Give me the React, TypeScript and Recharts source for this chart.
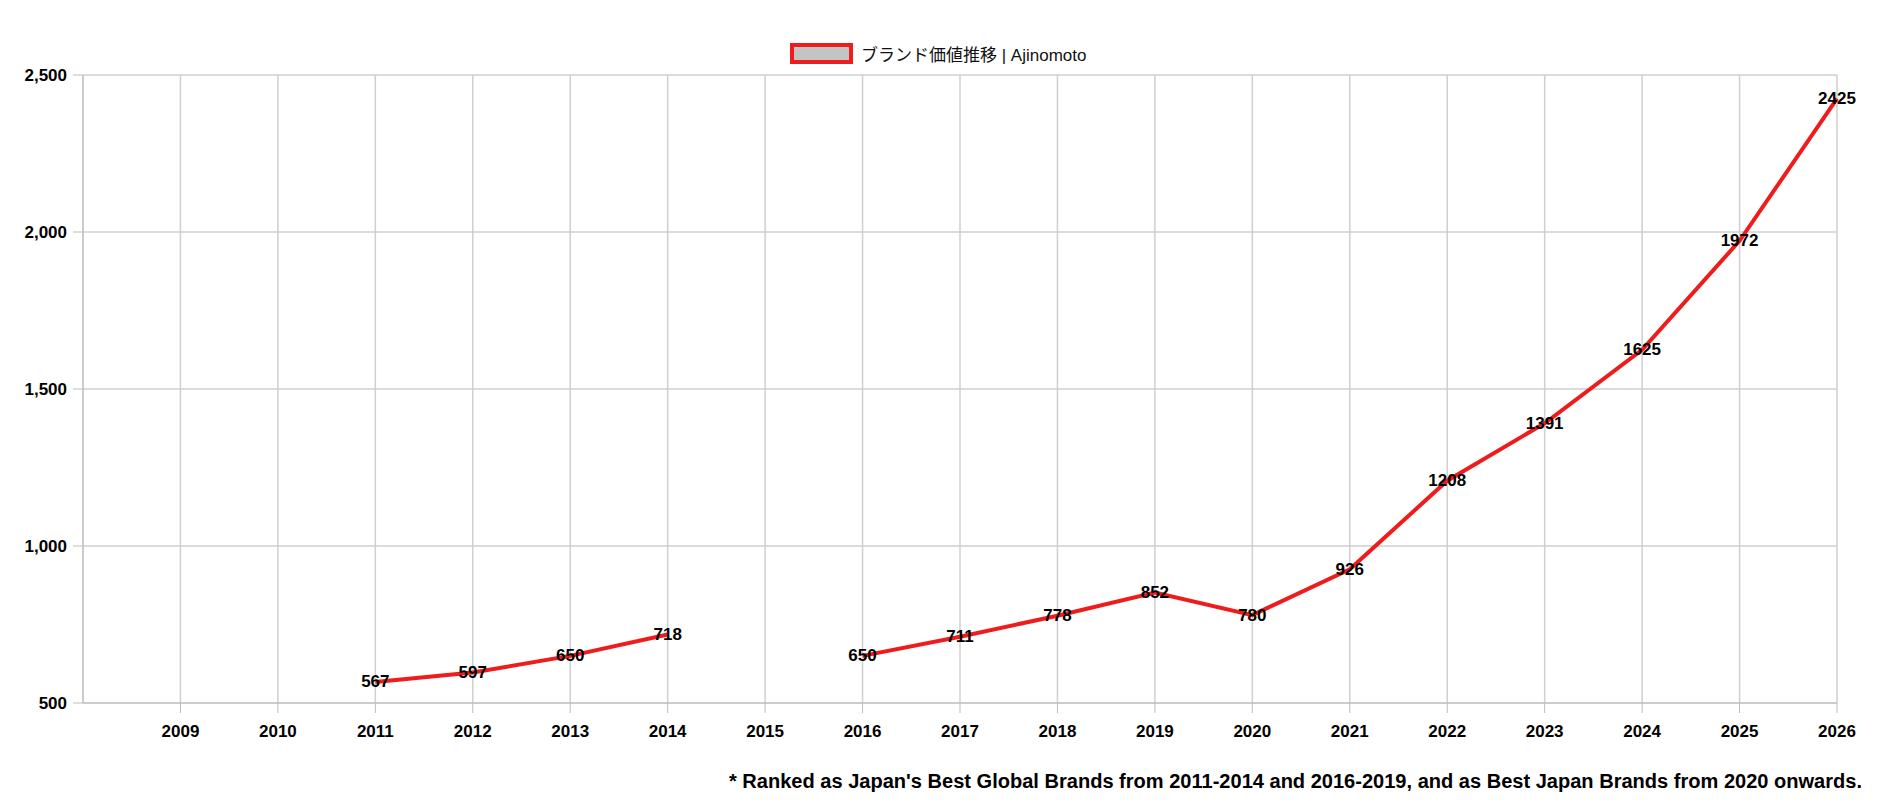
import { LineChart, Line, XAxis, YAxis, CartesianGrid, Legend, LabelList } from 'recharts'

// years on the x axis (2008 is an empty slot left of the first tick)
const years = [2009, 2010, 2011, 2012, 2013, 2014, 2015, 2016, 2017, 2018, 2019, 2020, 2021, 2022, 2023, 2024, 2025, 2026]
// brand value, null = not ranked that year
const brandValue: (number | null)[] = [null, null, 567, 597, 650, 718, null, 650, 711, 778, 852, 780, 926, 1208, 1391, 1625, 1972, 2425]
const yTicks = [500, 1000, 1500, 2000, 2500]

const seriesName = 'ブランド価値推移 | Ajinomoto'
const footnote =
  "* Ranked as Japan's Best Global Brands from 2011-2014 and 2016-2019, and as Best Japan Brands from 2020 onwards."

const data = years.map((year, i) => ({ year, value: brandValue[i] }))

const font = '"Liberation Sans", Arial, "Noto Sans CJK JP", sans-serif'
const tickStyle = { fill: '#000', fontSize: 17, fontWeight: 'bold', fontFamily: font }

function LegendBox() {
  return (
    <div style={{ display: 'flex', alignItems: 'center', fontFamily: font, fontSize: 17, color: '#111' }}>
      <span
        style={{
          display: 'inline-block',
          width: 55,
          height: 13,
          background: '#c4c4c4',
          border: '4px solid #ee1c1c',
          marginRight: 8,
        }}
      />
      <span>{seriesName}</span>
    </div>
  )
}

function PointLabel(props: any) {
  const { x, y, value } = props
  if (value == null) return null
  return (
    <text
      x={x}
      y={y}
      textAnchor="middle"
      dominantBaseline="central"
      fill="#000"
      fontSize={17}
      fontWeight="bold"
      fontFamily={font}
    >
      {value}
    </text>
  )
}

export default function App() {
  return (
    <div style={{ position: 'absolute', left: 0, top: 0, width: 1890, height: 811, background: '#fff' }}>
      <LineChart width={1890} height={811} data={data} margin={{ top: 75, right: 53, bottom: 78, left: 0 }}>
        <CartesianGrid stroke="#cfcfcf" strokeWidth={1.5} />
        <XAxis
          type="number"
          dataKey="year"
          domain={[2008, 2026]}
          ticks={years}
          height={30}
          tickSize={10}
          tickMargin={12}
          stroke="#bdbdbd"
          tick={tickStyle}
        />
        <YAxis
          domain={[500, 2500]}
          ticks={yTicks}
          width={83}
          tickSize={10}
          tickMargin={6}
          stroke="#bdbdbd"
          tick={tickStyle}
          tickFormatter={(v: number) => v.toLocaleString('en-US')}
        />
        <Legend
          verticalAlign="middle"
          align="center"
          wrapperStyle={{ top: 41, left: 790, width: 'auto' }}
          content={() => <LegendBox />}
        />
        <Line
          dataKey="value"
          name={seriesName}
          stroke="#ee1c1c"
          strokeWidth={4}
          dot={false}
          activeDot={false}
          connectNulls={false}
          isAnimationActive={false}
        >
          <LabelList dataKey="value" content={<PointLabel />} />
        </Line>
      </LineChart>
      <svg width={1890} height={811} style={{ position: 'absolute', left: 0, top: 0, pointerEvents: 'none' }}>
        <text
          x={1862}
          y={788}
          textAnchor="end"
          textLength={1133}
          lengthAdjust="spacingAndGlyphs"
          fill="#000"
          fontSize={20}
          fontWeight="bold"
          fontFamily='"Liberation Sans Narrow", "Liberation Sans", Arial, sans-serif'
        >
          {footnote}
        </text>
      </svg>
    </div>
  )
}
